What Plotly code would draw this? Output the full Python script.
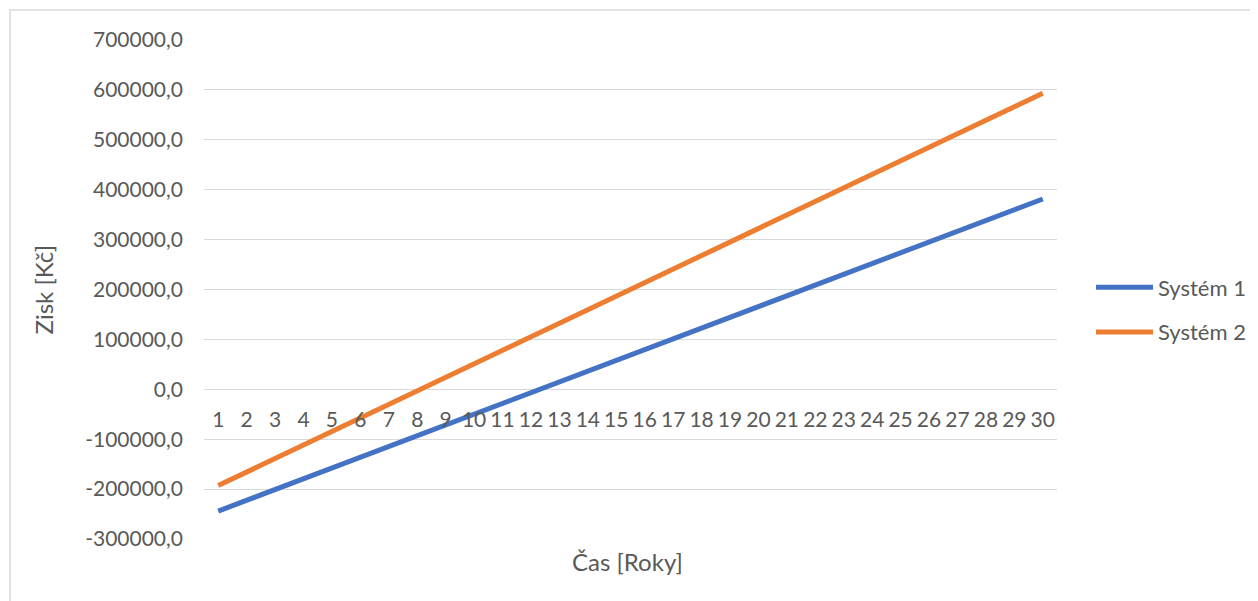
import plotly.graph_objects as go

years = [str(i) for i in range(1, 31)]
system1 = [-244000, -222400, -200900, -179300, -157700, -136200, -114600, -93000, -71500, -49900,
           -28400, -6800, 14800, 36300, 57900, 79500, 101000, 122600, 144200, 165700,
           187300, 208900, 230400, 252000, 273600, 295100, 316700, 338300, 359800, 381400]
system2 = [-193000, -165900, -138800, -111600, -84500, -57400, -30300, -3200, 23900, 51100,
           78200, 105300, 132400, 159500, 186600, 213800, 240900, 268000, 295100, 322200,
           349300, 376500, 403600, 430700, 457800, 484900, 512000, 539200, 566300, 593400]
series_names = ["Systém 1", "Systém 2"]
y_ticks = list(range(-300000, 700001, 100000))
y_tick_labels = [f"{v},0" for v in y_ticks]

FONT = "Lato, Carlito, Calibri, sans-serif"
GRAY = "#595959"

# page body has an 8px margin; figure is sized so it fills the 1258x601 window
OFF = 8
W, H = 1258 - OFF, 601 - OFF
# plot area in screen pixels
PX0, PX1, PY0, PY1 = 204, 1057, 40, 539
pw, ph = PX1 - PX0, PY1 - PY0
L, T = PX0 - OFF, PY0 - OFF
R, B = W - L - pw, H - T - ph

fig = go.Figure()
for name, vals, col, grp in [(series_names[0], system1, "#4472C4", "a"),
                             (series_names[1], system2, "#ED7D31", "b")]:
    fig.add_trace(go.Scatter(x=years, y=vals, mode="lines", name=name, legendgroup=grp,
                             line=dict(color=col, width=5)))

fig.update_layout(
    width=W, height=H,
    margin=dict(l=L, r=R, t=T, b=B, autoexpand=False),
    paper_bgcolor="white", plot_bgcolor="white",
    font=dict(family=FONT, color=GRAY, size=21),
    showlegend=True,
    legend=dict(x=1 + (1091 - PX1) / pw, y=1 - (310 - PY0) / ph, xanchor="left", yanchor="middle",
                font=dict(size=22, color=GRAY, family=FONT), tracegroupgap=13,
                itemwidth=57, bgcolor="rgba(0,0,0,0)"),
    xaxis=dict(type="category", range=[-0.5, 29.5], showgrid=False, zeroline=False,
               showline=False, ticks="", anchor="free", position=0.3,
               ticklabelstandoff=16,
               tickfont=dict(size=21, color=GRAY, family=FONT), tickangle=0),
    yaxis=dict(range=[-300000, 700000], tickvals=y_ticks, ticktext=y_tick_labels,
               showgrid=True, gridcolor="#D9D9D9", gridwidth=1, zeroline=False,
               showline=False, ticks="", ticklabelstandoff=20,
               tickfont=dict(size=21, color=GRAY, family=FONT)),
    annotations=[
        dict(text="Zisk [Kč]", xref="paper", yref="paper", x=0, y=0.5,
             xshift=-(PX0 - 43), textangle=-90, showarrow=False,
             xanchor="center", yanchor="middle", font=dict(size=24, color=GRAY, family=FONT)),
        dict(text="Čas [Roky]", xref="paper", yref="paper", x=0.5, y=0,
             xshift=627 - (PX0 + PX1) / 2, yshift=-(561 - PY1), showarrow=False,
             xanchor="center", yanchor="middle",
             font=dict(size=24, color=GRAY, family=FONT)),
    ],
    shapes=[dict(type="rect", xref="paper", yref="paper",
                 x0=(10 - PX0) / pw, x1=(1265 - PX0) / pw,
                 y0=1 - (610 - PY0) / ph, y1=1 - (10 - PY0) / ph,
                 line=dict(color="#D9D9D9", width=1.5), layer="below")],
)

fig.write_html("out.html")
